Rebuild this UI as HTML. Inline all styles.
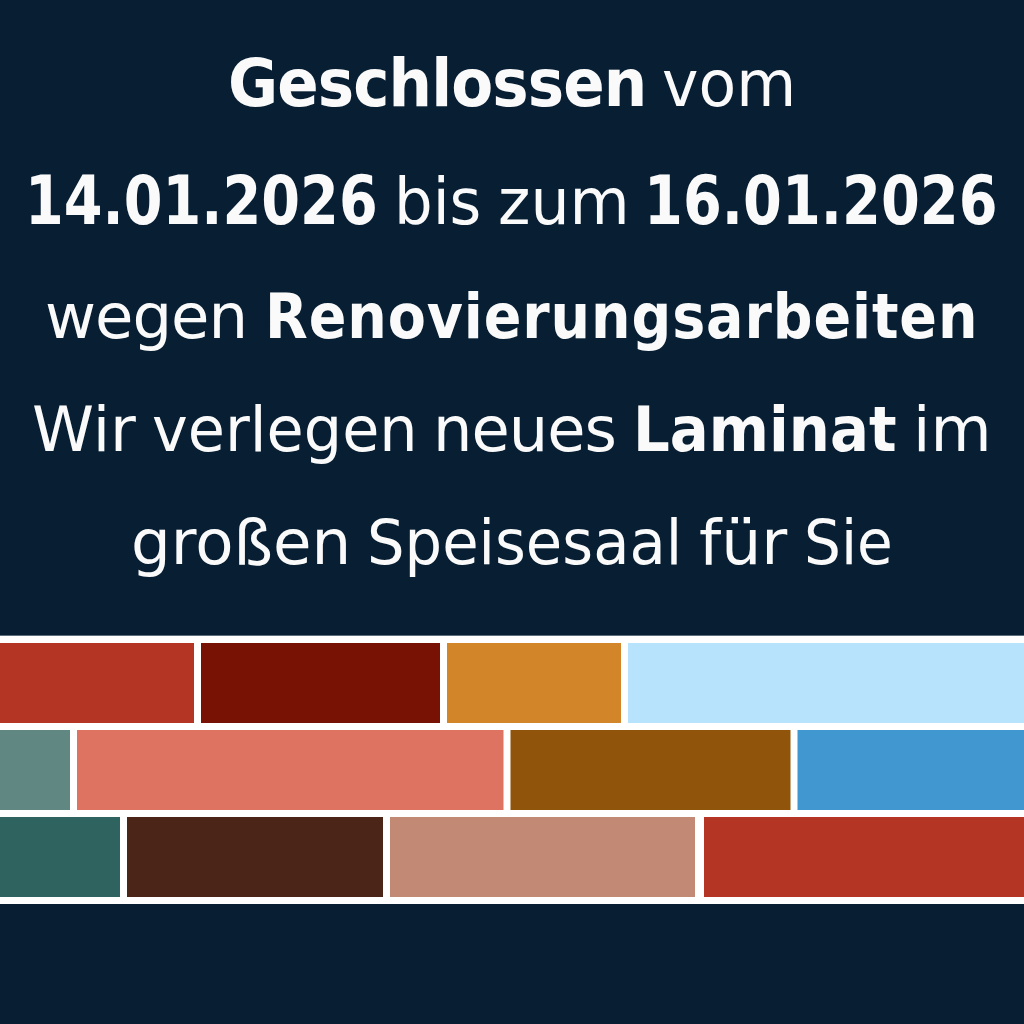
<!DOCTYPE html>
<html lang="de"><head><meta charset="utf-8"><title>Geschlossen wegen Renovierungsarbeiten</title><style>
html,body{margin:0;padding:0}
body{width:1024px;height:1024px;background:#071e33;overflow:hidden;position:relative;font-family:"DejaVu Sans","Liberation Sans",sans-serif;color:#fafafa}
.l{position:absolute;left:0;width:1024px;height:0;white-space:nowrap}
.w{position:absolute;left:0;top:0;font-weight:400;line-height:1;transform-origin:0 0;white-space:nowrap;display:block}
b.w{font-weight:700}
.bricks{position:absolute;left:0;top:0;display:block}
</style></head><body>
<div class="l" style="top:106.2px"><b class="w" style="letter-spacing:-1px;font-size:66.7px;left:228.45px;top:-56.00px;transform:scaleX(0.9165)">Geschlossen</b> <span class="w" style="font-size:63.7px;left:662.28px;top:-53.00px;transform:scaleX(0.9670)">vom</span></div>
<div class="l" style="top:224.2px"><b class="w" style="font-size:68.2px;left:25.26px;top:-57.00px;transform:scaleX(0.8176)">14.01.2026</b> <span class="w" style="font-size:63.7px;left:394.12px;top:-53.00px;transform:scaleX(0.9570)">bis</span> <span class="w" style="font-size:63.7px;left:498.20px;top:-53.00px;transform:scaleX(0.9699)">zum</span> <b class="w" style="font-size:68.2px;left:643.54px;top:-57.00px;transform:scaleX(0.8198)">16.01.2026</b></div>
<div class="l" style="top:338px"><span class="w" style="letter-spacing:-1px;font-size:63px;left:44.60px;top:-53.00px;transform:scaleX(0.9909)">wegen</span> <b class="w" style="letter-spacing:1px;font-size:63px;left:265.15px;top:-53.00px;transform:scaleX(0.8820)">Renovierungsarbeiten</b></div>
<div class="l" style="top:451px"><span class="w" style="font-size:63px;left:32.20px;top:-53.00px;transform:scaleX(0.9958)">Wir</span> <span class="w" style="font-size:63px;left:151.71px;top:-53.00px;transform:scaleX(0.9594)">verlegen</span> <span class="w" style="letter-spacing:-1px;font-size:63px;left:433.20px;top:-53.00px;transform:scaleX(0.9877)">neues</span> <b class="w" style="font-size:63px;left:633.24px;top:-53.00px;transform:scaleX(0.9173)">Laminat</b> <span class="w" style="font-size:63px;left:913.22px;top:-53.00px;transform:scaleX(0.9963)">im</span></div>
<div class="l" style="top:564px"><span class="w" style="font-size:63px;left:131.37px;top:-53.00px;transform:scaleX(0.9945)">großen</span> <span class="w" style="font-size:63px;left:367.06px;top:-53.00px;transform:scaleX(0.9397)">Speisesaal</span> <span class="w" style="font-size:63px;left:698.68px;top:-53.00px;transform:scaleX(1.0026)">für</span> <span class="w" style="font-size:63px;left:803.73px;top:-53.00px;transform:scaleX(0.9232)">Sie</span></div>
<svg class="bricks" width="1024" height="1024" viewBox="0 0 1024 1024">
<rect x="0" y="635.65" width="1024" height="268.35" fill="#ffffff"/>
<rect x="0" y="643" width="194" height="80" fill="#b53524"/>
<rect x="201" y="643" width="239" height="80" fill="#771204"/>
<rect x="447" y="643" width="174" height="80" fill="#d38629"/>
<rect x="628" y="643" width="396" height="80" fill="#b8e3fc"/>
<rect x="0" y="730" width="70" height="80" fill="#618782"/>
<rect x="77" y="730" width="426.5" height="80" fill="#de7361"/>
<rect x="510.5" y="730" width="280" height="80" fill="#90540b"/>
<rect x="797.5" y="730" width="226.5" height="80" fill="#4198d1"/>
<rect x="0" y="817" width="120" height="80" fill="#2f6360"/>
<rect x="127" y="817" width="256" height="80" fill="#4a2518"/>
<rect x="390" y="817" width="305" height="80" fill="#c28a74"/>
<rect x="704" y="817" width="320" height="80" fill="#b53524"/>
</svg>

</body></html>
